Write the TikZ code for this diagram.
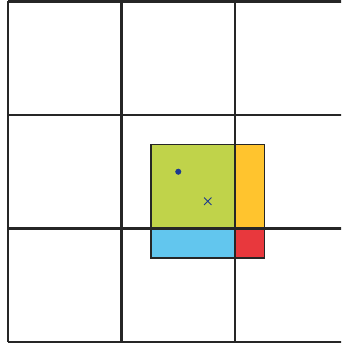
\documentclass[tikz,border=0pt]{standalone}
\usepackage{tikz}
\usetikzlibrary{shapes.misc}
\definecolor{cellGreen}{RGB}{192,211,74}
\definecolor{cellOrange}{RGB}{255,196,46}
\definecolor{cellBlue}{RGB}{98,198,238}
\definecolor{cellRed}{RGB}{232,56,61}
\definecolor{markBlue}{RGB}{29,58,143}
\begin{document}
\begin{tikzpicture}[x=3cm, y=3cm,
  gridline/.style={line width=1.6pt, black!85},
  part/.style={draw=black!85, line width=1.2pt}]
\useasboundingbox (-0.0705,-0.044) rectangle (2.934,3.013);
\clip (-0.0705,-0.044) rectangle (2.934,3.013);
% shifted cell, split by the grid
\fill[cellGreen] (1.26,1) rectangle (2,1.74);
\fill[cellOrange] (2,1) rectangle (2.26,1.74);
\fill[cellBlue] (1.26,0.74) rectangle (2,1);
\fill[cellRed] (2,0.74) rectangle (2.26,1);
\draw[part] (1.26,0.74) rectangle (2.26,1.74);
% grid
\foreach \i in {0,1,2,3} {
  \draw[gridline] (\i,0) -- (\i,3);
  \draw[gridline] (0,\i) -- (3,\i);
}
\node[circle, fill=markBlue, inner sep=0pt, minimum size=0.16cm] (centre) at (1.5,1.5) {};
\node[cross out, draw=markBlue, line width=0.7pt, inner sep=0pt, minimum size=0.17cm] (shift) at (1.76,1.24) {};
\end{tikzpicture}
\end{document}
